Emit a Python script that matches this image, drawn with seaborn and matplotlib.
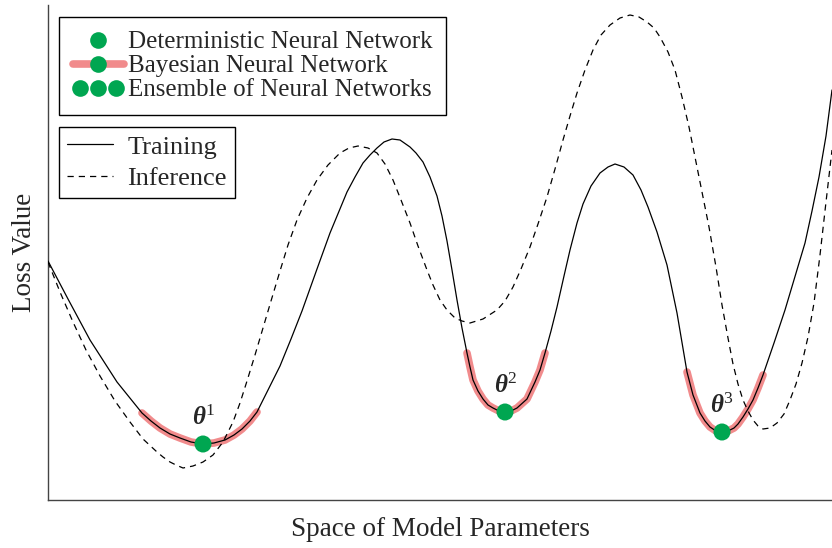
import matplotlib
matplotlib.use("Agg")
import matplotlib.pyplot as plt
import seaborn as sns
import pandas as pd
from matplotlib.lines import Line2D
from matplotlib.legend_handler import HandlerLine2D, HandlerTuple

# Loss landscape over a 1-D slice of parameter space
train_x = [0, 20, 42, 69, 94, 103, 112, 122, 132, 143, 155, 166, 177, 186, 194,
           202, 209, 220, 232, 243, 254, 269, 282, 299, 307, 315, 322, 329, 336,
           344, 352, 362, 368, 375, 382, 389, 394, 399, 404, 409, 414, 419, 422,
           425, 430, 435, 440, 445, 451, 457, 463, 469, 479, 487, 492, 497, 503,
           509, 516, 522, 529, 535, 543, 552, 560, 567, 576, 585, 593, 600, 609,
           619, 629, 639, 645, 652, 657, 662, 668, 674, 680, 686, 690, 695, 700,
           705, 710, 715, 726, 737, 757, 764, 771, 778, 784]
train_y = [239, 201, 160, 118, 87, 79, 72, 66, 62, 58, 56, 57, 60, 65, 71,
           79, 88, 110, 134, 161, 189, 231, 267, 308, 323, 337, 345, 352, 358,
           361, 360, 353, 347, 338, 323, 304, 284, 259, 230, 200, 172, 147, 133,
           120, 109, 101, 95, 92, 89, 88, 89, 92, 101, 118, 130, 147, 169,
           193, 224, 250, 277, 296, 314, 327, 333, 336, 333, 325, 310, 293, 268,
           235, 187, 128, 105, 87, 79, 73, 69, 68, 69, 72, 76, 83, 91,
           100, 112, 125, 157, 190, 257, 289, 323, 364, 410]

infer_x = [0, 12, 25, 38, 52, 67, 82, 95, 109, 115, 122, 128, 135, 145, 155,
           165, 175, 185, 192, 199, 207, 215, 223, 232, 240, 249, 259, 269, 280,
           292, 301, 310, 320, 329, 337, 345, 353, 362, 370, 379, 385, 392, 399,
           407, 414, 422, 435, 449, 457, 465, 473, 482, 490, 499, 507, 515, 522,
           529, 537, 545, 553, 562, 572, 582, 591, 599, 606, 612, 620, 627, 634,
           641, 651, 661, 668, 674, 680, 685, 690, 695, 700, 705, 710, 715, 722,
           729, 736, 742, 748, 754, 760, 766, 772, 778, 784]
infer_y = [238, 208, 178, 150, 124, 99, 78, 61, 48, 43, 38, 35, 32, 34, 38,
           45, 58, 78, 97, 119, 145, 172, 199, 229, 255, 280, 302, 320, 335,
           347, 352, 354, 352, 347, 336, 320, 300, 277, 254, 230, 215, 200, 190,
           182, 179, 177, 181, 190, 199, 213, 231, 253, 276, 303, 331, 360, 384,
           407, 430, 450, 465, 475, 482, 485, 483, 478, 472, 463, 448, 430, 403,
           373, 323, 273, 233, 195, 162, 136, 116, 100, 89, 80, 74, 71, 72,
           77, 86, 100, 116, 137, 163, 197, 245, 298, 350]

# Parameter ranges covered by the Bayesian posterior around each minimum
well_ranges = [(94, 209), (419, 497), (639, 715)]

# Minima found by training
minima_x = [155, 457, 674]
minima_y = [56, 88, 68]
minima_labels = [r"$\mathbf{\theta}^{1}$", r"$\mathbf{\theta}^{2}$", r"$\mathbf{\theta}^{3}$"]

legend_models = ["Deterministic Neural Network", "Bayesian Neural Network",
                 "Ensemble of Neural Networks"]
legend_phases = ["Training", "Inference"]

GREEN = "#00A651"
RED = "#F07F80"
DASH = [5, 4]

sns.set_style("white")
plt.rcParams["font.family"] = ["Liberation Serif", "DejaVu Serif"]
plt.rcParams["mathtext.fontset"] = "custom"
plt.rcParams["mathtext.rm"] = "Liberation Serif"
plt.rcParams["mathtext.it"] = "Liberation Serif:italic"
plt.rcParams["mathtext.bf"] = "Liberation Serif:italic:bold"

W, H = 832, 548
fig = plt.figure(figsize=(W / 100, H / 100), dpi=100)
ax = fig.add_axes([48 / W, 48 / H, 784 / W, 495 / H])

train = pd.DataFrame({"x": train_x, "y": train_y})
infer = pd.DataFrame({"x": infer_x, "y": infer_y})

# Bayesian posterior bands along the training curve
for lo, hi in well_ranges:
    seg = train[(train.x >= lo) & (train.x <= hi)]
    sns.lineplot(data=seg, x="x", y="y", ax=ax, color=RED, lw=5.5, alpha=0.9,
                 sort=False, estimator=None, solid_capstyle="round", zorder=2)

sns.lineplot(data=train, x="x", y="y", ax=ax, color="black", lw=0.9,
             sort=False, estimator=None, zorder=3)
sns.lineplot(data=infer, x="x", y="y", ax=ax, color="black", lw=0.9,
             sort=False, estimator=None, zorder=3)
ax.lines[-1].set_dashes(DASH)

sns.scatterplot(x=minima_x, y=minima_y, ax=ax, color=GREEN, s=150,
                edgecolor="none", zorder=4)

for mx, my, lab in zip(minima_x, minima_y, minima_labels):
    ax.annotate(lab, (mx, my), xytext=(0, 13.5), textcoords="offset points",
                ha="center", va="baseline", fontsize=18, zorder=5)

ax.set_xlim(0, 784)
ax.set_ylim(0, 495)
ax.set_xticks([])
ax.set_yticks([])
for side in ("top", "right"):
    ax.spines[side].set_visible(False)
for side in ("left", "bottom"):
    ax.spines[side].set_color("#444444")
    ax.spines[side].set_linewidth(1.0)

ax.set_xlabel("Space of Model Parameters", fontsize=19.5, labelpad=12)
ax.set_ylabel("Loss Value", fontsize=19.5, labelpad=8)

# Legend of model types
det = Line2D([], [], ls="none", marker="o", ms=12, color=GREEN, mec="none")
bnn_band = Line2D([], [], color=RED, lw=5.5, alpha=0.9, solid_capstyle="round")
bnn_dot = Line2D([], [], ls="none", marker="o", ms=12, color=GREEN, mec="none")
ens = Line2D([], [], ls="none", marker="o", ms=12, color=GREEN, mec="none")
leg1 = fig.legend([det, (bnn_band, bnn_dot), ens], legend_models,
                  handler_map={ens: HandlerLine2D(numpoints=3),
                               tuple: HandlerTuple(ndivide=1)},
                  loc="upper left", bbox_to_anchor=(59 / W, 1 - 17 / H),
                  bbox_transform=fig.transFigure, borderaxespad=0,
                  fontsize=18, handlelength=2.04, handletextpad=0.16,
                  labelspacing=0.06, borderpad=0.55, fancybox=False,
                  framealpha=1, edgecolor="black")
leg1.get_frame().set_linewidth(1.0)

# Legend of curve types
solid = Line2D([], [], color="black", lw=0.9)
dashed = Line2D([], [], color="black", lw=0.9, dashes=DASH)
leg2 = fig.legend([solid, dashed], legend_phases,
                  loc="upper left", bbox_to_anchor=(59 / W, 1 - 127 / H),
                  bbox_transform=fig.transFigure, borderaxespad=0,
                  fontsize=19, handlelength=1.74, handletextpad=0.53,
                  labelspacing=0.31, borderpad=0.31, fancybox=False,
                  framealpha=1, edgecolor="black")
leg2.get_frame().set_linewidth(1.0)

fig.savefig("out.png", dpi=100)
